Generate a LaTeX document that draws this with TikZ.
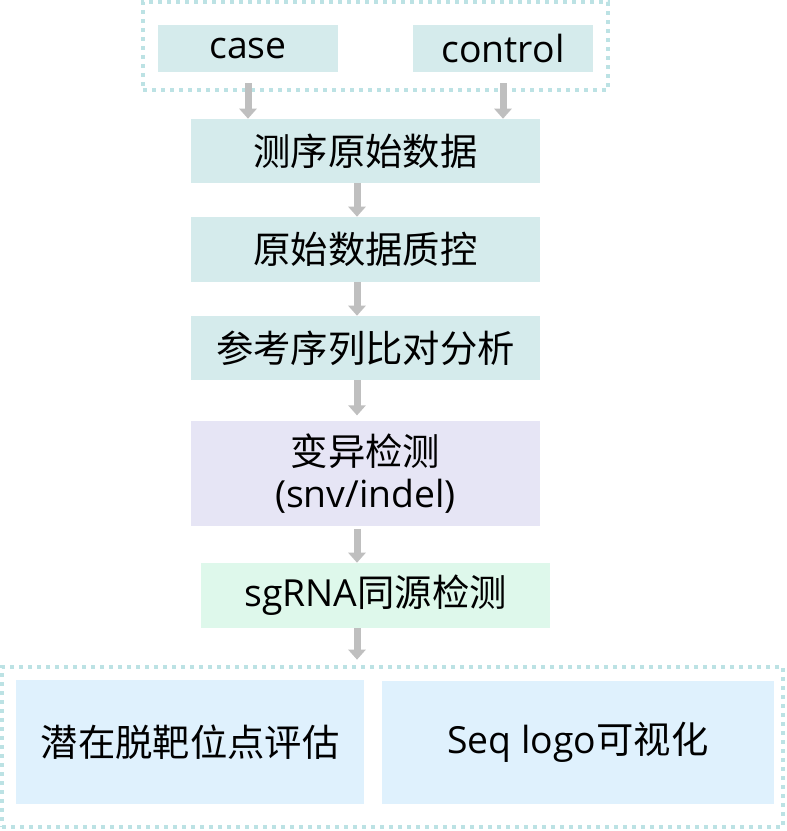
\documentclass[tikz,border=0pt]{standalone}
\usepackage{fontspec}
\setmainfont{Open Sans}
\newfontfamily\cjk{Noto Sans CJK SC}
\usetikzlibrary{arrows.meta}
\definecolor{tealfill}{HTML}{D5EBEC}
\definecolor{purplefill}{HTML}{E6E5F5}
\definecolor{greenfill}{HTML}{DEF8EB}
\definecolor{bluefill}{HTML}{DFF1FD}
\definecolor{dotline}{HTML}{BCE2E4}
\definecolor{arrowgray}{HTML}{BFBFBF}
\begin{document}
\begin{tikzpicture}[
	x=0.75pt, y=-0.75pt,
	box/.style={
		fill=#1, inner sep=0pt,
		minimum width=261.75pt, minimum height=48pt,
		align=center, font=\fontsize{28}{32}\selectfont
	},
	box/.default=tealfill,
	group/.style={
		draw=dotline, line width=3pt, dash pattern=on 3pt off 3.75pt,
		inner sep=0pt
	},
	arr/.style={-{Triangle[width=12.75pt, length=7.5pt]}, draw=arrowgray, line width=5.25pt}
]
\useasboundingbox (0,0) rectangle (787,831);

% Nodes
% input group: x 143..608, y 2..90
\node[group, minimum width=348.75pt, minimum height=66pt] (topgrp) at (375.5, 46) {};
\node[box, minimum width=135pt, minimum height=35.25pt] (case)    at (248, 48.5) {case};
\node[box, minimum width=135pt, minimum height=35.25pt] (control) at (503, 48.5) {control};

% main chain: x 191..540
\node[box] (raw)   at (365.5, 151)   {\cjk 测序原始数据};
\node[box, minimum height=48.75pt] (qc)    at (365.5, 249.5) {\cjk 原始数据质控};
\node[box] (align) at (365.5, 348)   {\cjk 参考序列比对分析};
\node[box=purplefill, minimum height=78.75pt] (var) at (365.5, 473.5) {{\cjk 变异检测}\\(snv/indel)};
\node[box=greenfill, minimum height=48.75pt]  (sgrna) at (375.5, 595.5) {sgRNA{\cjk 同源检测}};

% output group: x 2..783, y 667..827
\node[group, minimum width=585.75pt, minimum height=120pt] (botgrp) at (392.5, 747) {};
\node[box=bluefill, minimum width=261pt, minimum height=93pt] (offtarget) at (190, 742) {\cjk 潜在脱靶位点评估};
\node[box=bluefill, minimum width=294pt, minimum height=92.25pt] (seqlogo) at (578, 742.5) {Seq logo{\cjk 可视化}};

% arrows run down x = 357
\coordinate (spine) at (357, 0);

\draw[arr] ([yshift=-11*0.75pt]case.south)    -- (case.south |- raw.north);
\draw[arr] ([yshift=-11*0.75pt]control.south) -- (control.south |- raw.north);

\draw[arr] (raw.south -| spine)   -- (qc.north -| spine);
\draw[arr] (qc.south -| spine)    -- (align.north -| spine);
\draw[arr] (align.south -| spine) -- ([yshift=4pt]var.north -| spine);
\draw[arr] ([yshift=-2pt]var.south -| spine) -- (sgrna.north -| spine);
\draw[arr] (sgrna.south -| spine) -- ([yshift=4pt]botgrp.north -| spine);

\end{tikzpicture}
\end{document}
